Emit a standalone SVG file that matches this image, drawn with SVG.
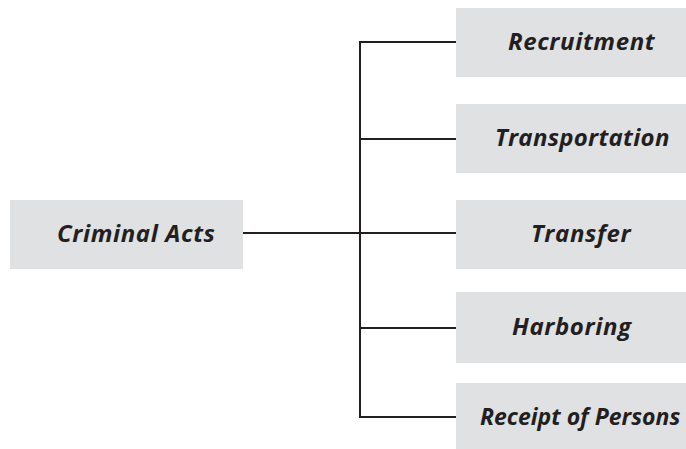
<svg xmlns="http://www.w3.org/2000/svg" width="686" height="449" viewBox="0 0 686 449">
  <style>
    .box { fill: #e0e1e2; }
    .label { font-family: "Open Sans", "Liberation Sans", sans-serif; font-weight: bold; font-style: italic; font-size: 24px; letter-spacing: 0.6px; fill: #231f20; }
    .tight { letter-spacing: 0; font-size: 23px; }
    .wire { stroke: #231f20; stroke-width: 2; fill: none; }
  </style>
  <rect width="686" height="449" fill="#ffffff"/>
  <g id="connectors">
    <path class="wire" d="M243,233 H360"/>
    <path class="wire" d="M456,42 H360 V417 H456"/>
    <path class="wire" d="M360,139 H456"/>
    <path class="wire" d="M360,233 H456"/>
    <path class="wire" d="M360,328 H456"/>
  </g>
  <g id="criminal-acts">
    <rect class="box" x="10" y="200" width="233" height="69"/>
    <text class="label" x="57" y="242">Criminal Acts</text>
  </g>
  <g id="recruitment">
    <rect class="box" x="456" y="8" width="230" height="69"/>
    <text class="label" x="508" y="50">Recruitment</text>
  </g>
  <g id="transportation">
    <rect class="box" x="456" y="104" width="230" height="69"/>
    <text class="label" x="495" y="146" textLength="175" lengthAdjust="spacing">Transportation</text>
  </g>
  <g id="transfer">
    <rect class="box" x="456" y="200" width="230" height="69"/>
    <text class="label" x="531" y="242">Transfer</text>
  </g>
  <g id="harboring">
    <rect class="box" x="456" y="292" width="230" height="71"/>
    <text class="label" x="512" y="335">Harboring</text>
  </g>
  <g id="receipt-of-persons">
    <rect class="box" x="456" y="383" width="230" height="66"/>
    <text class="label tight" x="480" y="425">Receipt of Persons</text>
  </g>
</svg>
